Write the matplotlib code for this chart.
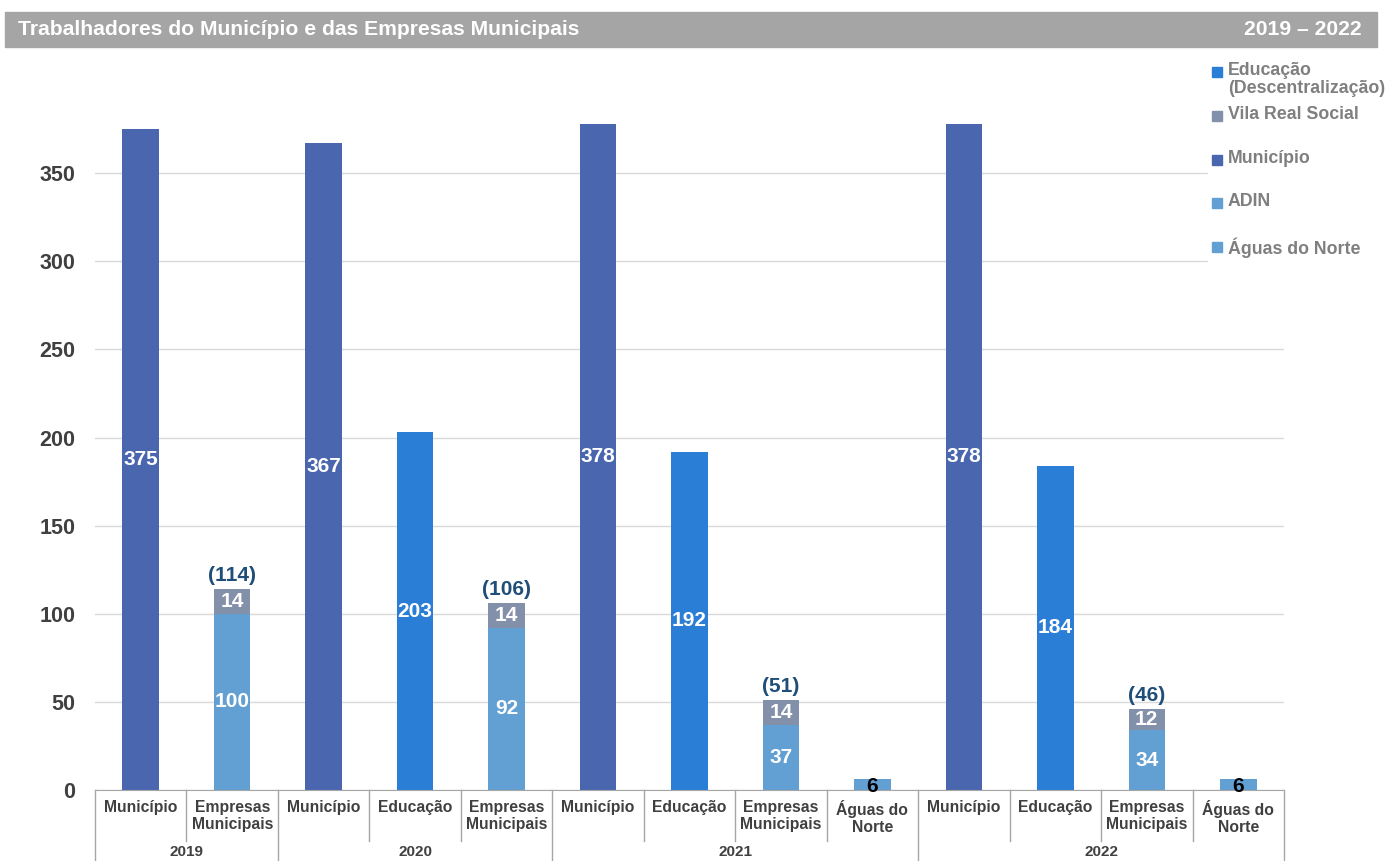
import numpy as np
import matplotlib
matplotlib.use('Agg')
import matplotlib.pyplot as plt
from matplotlib.patches import Rectangle
import matplotlib.transforms as mtransforms

plt.rcParams['font.family'] = ['Liberation Sans', 'DejaVu Sans']

# data
categories = ['Município', 'Empresas\nMunicipais',
              'Município', 'Educação', 'Empresas\nMunicipais',
              'Município', 'Educação', 'Empresas\nMunicipais', 'Águas do\nNorte',
              'Município', 'Educação', 'Empresas\nMunicipais', 'Águas do\nNorte']
years = ['2019', '2020', '2021', '2022']
year_sizes = [2, 3, 4, 4]

municipio = [375, 0, 367, 0, 0, 378, 0, 0, 0, 378, 0, 0, 0]
educacao = [0, 0, 0, 203, 0, 0, 192, 0, 0, 0, 184, 0, 0]
adin = [0, 100, 0, 0, 92, 0, 0, 37, 0, 0, 0, 34, 0]
vila_real = [0, 14, 0, 0, 14, 0, 0, 14, 0, 0, 0, 12, 0]
aguas = [0, 0, 0, 0, 0, 0, 0, 0, 6, 0, 0, 0, 6]

c_mun = '#4A66AE'
c_edu = '#2A7ED6'
c_adin = '#629FD3'
c_vrs = '#8390A9'
c_aguas = '#629FD3'

fig = plt.figure(figsize=(13.89, 8.61), dpi=100)
ax = fig.add_axes([95 / 1389, 71 / 861, (1284 - 95) / 1389, 705 / 861])

x = np.arange(len(categories))
w = 0.4
ax.bar(x, municipio, w, color=c_mun, zorder=2)
ax.bar(x, educacao, w, color=c_edu, zorder=2)
ax.bar(x, adin, w, color=c_adin, zorder=2)
ax.bar(x, vila_real, w, bottom=adin, color=c_vrs, zorder=2)
ax.bar(x, aguas, w, color=c_aguas, zorder=2)

lab = dict(ha='center', va='center', fontsize=15, fontweight='bold', zorder=4)
for i in x:
    if municipio[i]:
        ax.text(i, municipio[i] / 2, str(municipio[i]), color='white', **lab)
    if educacao[i]:
        ax.text(i, educacao[i] / 2, str(educacao[i]), color='white', **lab)
    if adin[i]:
        ax.text(i, adin[i] / 2, str(adin[i]), color='white', **lab)
        ax.text(i, adin[i] + vila_real[i] / 2, str(vila_real[i]), color='white', **lab)
        ax.annotate('(%d)' % (adin[i] + vila_real[i]), (i, adin[i] + vila_real[i]),
                    xytext=(0, 3), textcoords='offset points', ha='center', va='bottom',
                    fontsize=15, fontweight='bold', color='#1F4E79')
    if aguas[i]:
        ax.text(i, aguas[i] / 2 - 1, str(aguas[i]), color='black', **lab)

ax.set_xlim(-0.5, len(categories) - 0.5)
ax.set_ylim(0, 400)
ax.set_yticks(range(0, 351, 50))
ax.grid(axis='y', color='#D9D9D9', linewidth=1, zorder=0)
ax.set_axisbelow(True)
for s in ['top', 'right', 'left']:
    ax.spines[s].set_visible(False)
ax.spines['bottom'].set_color('#A6A6A6')
ax.tick_params(axis='y', length=0, pad=14, labelsize=15.5, labelcolor='#404040')
ax.tick_params(axis='x', length=0, pad=7, labelsize=11.3, labelcolor='#404040')
for t in ax.get_yticklabels():
    t.set_fontweight('bold')
ax.set_xticks(x)
ax.set_xticklabels(categories, fontweight='bold', linespacing=1.2)

# multi-level category separators
trans = mtransforms.blended_transform_factory(ax.transData, ax.transAxes)
bounds = np.cumsum([0] + year_sizes) - 0.5
for b in np.arange(-0.5, len(categories)):
    bottom = -0.12 if b in bounds else -0.072
    ax.plot([b, b], [0, bottom], transform=trans, color='#A6A6A6', lw=1, clip_on=False)
start = 0
for yr, n in zip(years, year_sizes):
    ax.text(start + (n - 1) / 2, -0.0875, yr, transform=trans, ha='center', va='center',
            fontsize=11, fontweight='bold', color='#404040')
    start += n

# title bar
fig.patches.append(Rectangle((5 / 1389, 1 - 47 / 861), (1377 - 5) / 1389, 35 / 861,
                             transform=fig.transFigure, color='#A5A5A5', zorder=5))
fig.text(18 / 1389, 1 - 29.5 / 861, 'Trabalhadores do Município e das Empresas Municipais',
         ha='left', va='center', color='white', fontsize=15.2, fontweight='bold', zorder=6)
fig.text(1362 / 1389, 1 - 29.5 / 861, '2019 – 2022', ha='right', va='center',
         color='white', fontsize=15.2, fontweight='bold', zorder=6)

# legend
fig.patches.append(Rectangle((1208 / 1389, 1 - 265 / 861), 180 / 1389, 205 / 861,
                             transform=fig.transFigure, color='white', zorder=5))
leg_labels = ['Educação\n(Descentralização)', 'Vila Real Social', 'Município', 'ADIN',
              'Águas do Norte']
leg_colors = [c_edu, c_vrs, c_mun, c_adin, c_aguas]
leg_y = [72, 116, 160, 203, 247]
for lbl, col, yy in zip(leg_labels, leg_colors, leg_y):
    fig.patches.append(Rectangle((1212 / 1389, 1 - (yy + 5) / 861), 10 / 1389, 10 / 861,
                                 transform=fig.transFigure, color=col, zorder=6))
    fig.text(1228 / 1389, 1 - (yy - 10) / 861, lbl, ha='left', va='top', color='#7F7F7F',
             fontsize=12.8, fontweight='bold', linespacing=1.1, zorder=6)

fig.savefig('out.png', dpi=100)
